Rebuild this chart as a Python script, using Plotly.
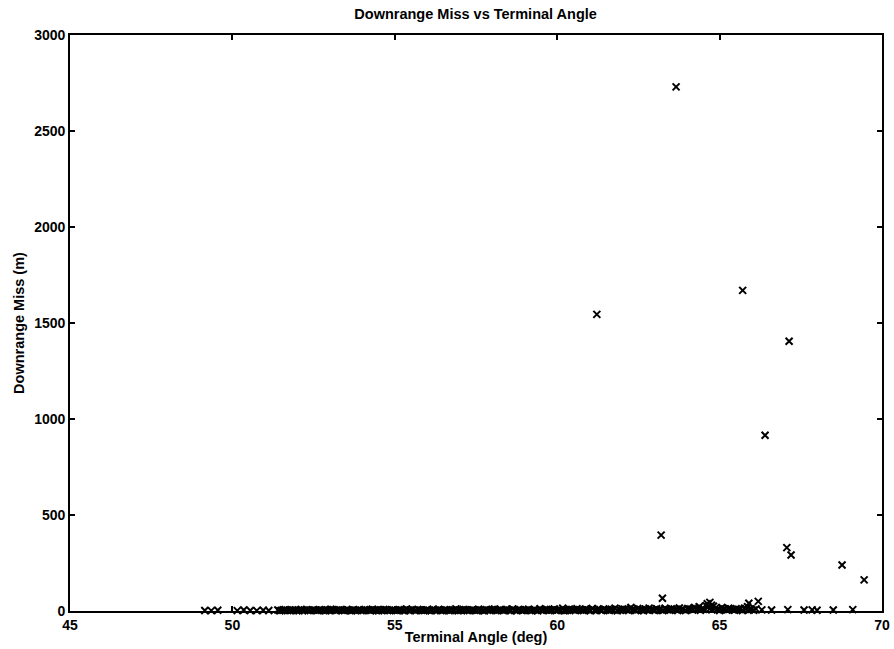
import plotly.graph_objects as go

# Near-zero misses (dense band along the x axis)
band_angle = [
    49.15, 49.35, 49.55, 50.15, 50.35, 50.55, 50.75, 50.95, 51.12, 51.40,
    51.52, 51.63, 51.77, 51.86, 51.98, 52.12, 52.21, 52.33, 52.47, 52.56,
    52.68, 52.82, 52.91, 53.03, 53.17, 53.26, 53.38, 53.52, 53.61, 53.73,
    53.87, 53.96, 54.08, 54.22, 54.31, 54.43, 54.57, 54.66, 54.78, 54.92,
    55.01, 55.13, 55.27, 55.36, 55.48, 55.62, 55.71, 55.83, 55.97, 56.06,
    56.18, 56.32, 56.41, 56.53, 56.67, 56.76, 56.88, 57.02, 57.11, 57.23,
    57.37, 57.46, 57.58, 57.72, 57.81, 57.93, 58.07, 58.16, 58.28, 58.42,
    58.51, 58.63, 58.77, 58.86, 58.98, 59.12, 59.21, 59.33, 59.47, 59.56,
    59.68, 59.82, 59.91, 60.03, 60.17, 60.26, 60.38, 60.52, 60.61, 60.73,
    60.87, 60.96, 61.08, 61.22, 61.31, 61.43, 61.57, 61.66, 61.78, 61.92,
    62.01, 62.13, 62.27, 62.36, 62.48, 62.62, 62.71, 62.83, 62.97, 63.06,
    63.18, 63.32, 63.41, 63.53, 63.67, 63.76, 63.88, 64.02, 64.11, 64.23,
    64.37, 64.46, 64.58, 64.72, 64.81, 64.93, 65.07, 65.16, 65.28, 65.42,
    65.51, 65.63, 65.77, 65.86, 65.98, 66.12, 66.30, 66.60, 67.10, 67.60,
    67.85, 68.00, 68.50, 69.10,
]
band_miss = [
    3, 2, 4, 2, 5, 3, 2, 4, 3, 5,
    4, 7, 3, 6, 2, 8, 5, 3, 6, 4,
    7, 3, 5, 9, 2, 6, 4, 8, 3, 5,
    6, 2, 7, 4, 9, 3, 5, 8, 2, 6,
    4, 7, 3, 10, 5, 2, 8, 4, 6, 3,
    9, 5, 3, 7, 2, 6, 11, 4, 8, 3,
    6, 4, 9, 2, 7, 5, 10, 3, 6, 8,
    4, 11, 3, 7, 5, 9, 2, 6, 12, 4,
    8, 5, 10, 6, 14, 3, 9, 7, 12, 5,
    10, 6, 13, 4, 8, 11, 5, 9, 14, 6,
    11, 7, 18, 9, 13, 6, 10, 15, 5, 12,
    8, 14, 6, 11, 9, 16, 7, 13, 10, 18,
    22, 12, 28, 15, 25, 9, 18, 11, 14, 8,
    12, 7, 15, 22, 9, 11, 6, 5, 7, 5,
    6, 4, 5, 7,
]

# Second group of near-zero misses, interleaved within the dense region
band2_angle = [
    51.46, 51.58, 51.70, 51.81, 51.93, 52.05, 52.16, 52.28, 52.40, 52.51,
    52.62, 52.75, 52.87, 52.97, 53.10, 53.21, 53.32, 53.45, 53.56, 53.67,
    53.80, 53.91, 54.02, 54.15, 54.26, 54.37, 54.50, 54.61, 54.72, 54.85,
    54.96, 55.07, 55.20, 55.31, 55.42, 55.55, 55.66, 55.77, 55.90, 56.01,
    56.12, 56.25, 56.36, 56.47, 56.60, 56.71, 56.82, 56.95, 57.06, 57.17,
    57.30, 57.41, 57.52, 57.65, 57.76, 57.87, 58.00, 58.11, 58.22, 58.35,
    58.46, 58.57, 58.70, 58.81, 58.92, 59.05, 59.16, 59.27, 59.40, 59.51,
    59.62, 59.75, 59.86, 59.97, 60.10, 60.21, 60.32, 60.45, 60.56, 60.67,
    60.80, 60.91, 61.02, 61.15, 61.26, 61.37, 61.50, 61.61, 61.72, 61.85,
    61.96, 62.07, 62.20, 62.31, 62.42, 62.55, 62.66, 62.77, 62.90, 63.01,
    63.12, 63.25, 63.36, 63.47, 63.60, 63.71, 63.82, 63.95, 64.06, 64.17,
    64.30, 64.41, 64.52, 64.65, 64.76, 64.87, 65.00, 65.11, 65.22, 65.35,
    65.46, 65.57, 65.70, 65.81, 65.92, 66.05,
]
band2_miss = [
    1, 5, 2, 4, 6, 1, 3, 7, 2, 5,
    3, 6, 1, 4, 7, 3, 5, 2, 6, 1,
    4, 7, 2, 5, 3, 6, 1, 4, 7, 2,
    5, 3, 6, 1, 4, 7, 2, 5, 3, 6,
    1, 4, 8, 2, 5, 3, 6, 1, 4, 7,
    2, 5, 3, 6, 1, 4, 8, 2, 5, 3,
    7, 1, 4, 8, 2, 5, 3, 6, 1, 4,
    8, 2, 5, 3, 6, 1, 4, 8, 2, 5,
    3, 7, 1, 4, 9, 2, 5, 3, 7, 1,
    4, 9, 2, 6, 3, 8, 1, 5, 9, 3,
    6, 2, 8, 4, 10, 3, 7, 2, 9, 5,
    12, 4, 9, 20, 6, 14, 3, 8, 5, 10,
    4, 8, 3, 12, 6, 4,
]

# Larger misses
outlier_angle = [63.66, 61.22, 65.71, 67.14, 66.40, 63.20, 67.07, 67.20,
                 68.77, 69.45, 63.24, 64.70, 64.62, 64.75, 65.90, 66.19]
outlier_miss = [2730, 1545, 1670, 1405, 915, 395, 330, 292,
                240, 162, 66, 45, 38, 30, 40, 50]

x_ticks = [45, 50, 55, 60, 65, 70]
y_ticks = [0, 500, 1000, 1500, 2000, 2500, 3000]

angle = band_angle + band2_angle + outlier_angle
miss = band_miss + band2_miss + outlier_miss

fig = go.Figure()
fig.add_trace(go.Scatter(
    x=angle, y=miss, mode="markers",
    marker=dict(symbol="x-thin", size=7, color="black",
                line=dict(color="black", width=2)),
    showlegend=False, cliponaxis=False,
))

font_family = "Liberation Sans, Arial, sans-serif"
axis_common = dict(
    showline=True, linecolor="black", linewidth=1.8, mirror="ticks",
    ticks="inside", ticklen=5, tickwidth=1.5, tickcolor="black",
    showgrid=False, zeroline=False, automargin=False,
    tickfont=dict(family=font_family, size=14, color="black", weight="bold"),
)

fig.update_layout(
    width=894, height=649,
    margin=dict(l=70, r=12, t=35, b=38),
    paper_bgcolor="white", plot_bgcolor="white",
    title=dict(text="Downrange Miss vs Terminal Angle", x=0.532, xanchor="center",
               y=0.978, yanchor="middle",
               font=dict(family=font_family, size=14.5, color="black", weight="bold")),
    xaxis=dict(range=[45, 70], tickvals=x_ticks, ticktext=[str(v) for v in x_ticks],
               ticklabelstandoff=0,
               title=dict(text="Terminal Angle (deg)", standoff=0,
                          font=dict(family=font_family, size=14.5, color="black", weight="bold")),
               **axis_common),
    yaxis=dict(range=[0, 3000], tickvals=y_ticks, ticktext=[str(v) for v in y_ticks],
               title=dict(text="Downrange Miss (m)", standoff=6,
                          font=dict(family=font_family, size=14.5, color="black", weight="bold")),
               **axis_common),
)

fig.write_html("out.html")
